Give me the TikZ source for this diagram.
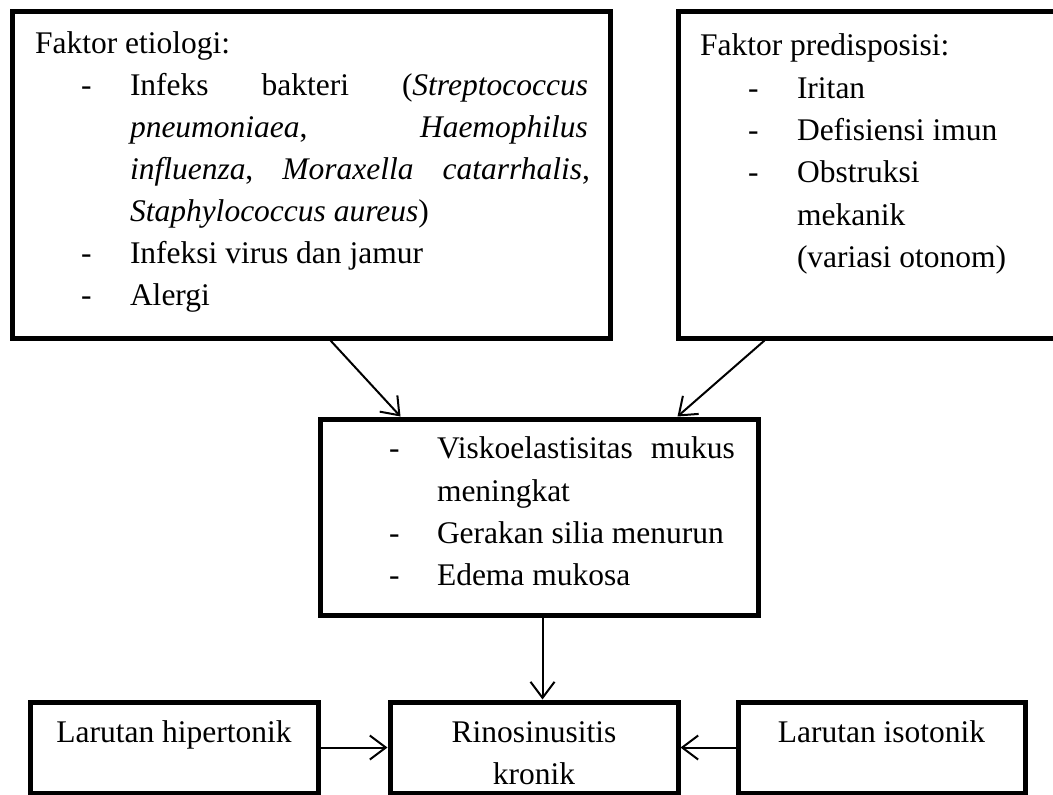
\documentclass[tikz,border=0pt]{standalone}
\usepackage{fontspec}
\setmainfont{Liberation Serif}
\usetikzlibrary{arrows.meta}
\begin{document}
\begin{tikzpicture}[x=1pt,y=-1pt,
  box/.style={draw=black,line width=5pt,inner sep=0pt,outer sep=2.5pt,rectangle},
  txt/.style={anchor=base west,inner sep=0pt,outer sep=0pt,font=\fontsize{31.5}{42}\selectfont},
  ctxt/.style={anchor=base,inner sep=0pt,outer sep=0pt,font=\fontsize{31.5}{42}\selectfont},
  arr/.style={line width=2pt,-{Straight Barb[length=16pt,width=24pt,line width=2pt]}}]
\useasboundingbox (0,0) rectangle (1053,795);
\clip (0,0) rectangle (1053,795);
% boxes
\node[box,minimum width=598pt,minimum height=327pt] (b1) at (311,174.5) {};
\node[box,minimum width=380pt,minimum height=327pt] (b2) at (868,174.5) {};
\node[box,minimum width=438pt,minimum height=196pt] (b3) at (539,517) {};
\node[box,minimum width=288pt,minimum height=91pt] (bl) at (174,747.5) {};
\node[box,minimum width=288pt,minimum height=91pt] (bm) at (534,747.5) {};
\node[box,minimum width=287pt,minimum height=91pt] (br) at (881.5,747.5) {};
% box 1 text
\node[txt] (e0) at (35,53) {Faktor etiologi:};
\node[txt] (e1d) at (81,95) {-};
\node[txt] (e1) at (130,95) {\hbox to 458pt{Infeks\hfill bakteri\hfill (\textit{Streptococcus}}};
\node[txt] (e2) at (130,137) {\hbox to 458pt{\textit{pneumoniaea},\hfill \textit{Haemophilus}}};
\node[txt] (e3) at (130,179) {\hbox to 460pt{\textit{influenza},\hfill \textit{Moraxella}\hfill \textit{catarrhalis},}};
\node[txt] (e4) at (130,221) {\textit{Staphylococcus aureus})};
\node[txt] (e5d) at (81,263) {-};
\node[txt] (e5) at (130,263) {Infeksi virus dan jamur};
\node[txt] (e6d) at (81,305) {-};
\node[txt] (e6) at (130,305) {Alergi};
% box 2 text
\node[txt] (p0) at (700,55) {Faktor predisposisi:};
\node[txt] (p1d) at (748,98) {-};
\node[txt] (p1) at (797,98) {Iritan};
\node[txt] (p2d) at (748,140) {-};
\node[txt] (p2) at (797,140) {Defisiensi imun};
\node[txt] (p3d) at (748,182) {-};
\node[txt] (p3) at (797,182) {Obstruksi};
\node[txt] (p4) at (797,225) {mekanik};
\node[txt] (p5) at (797,267) {(variasi otonom)};
% box 3 text
\node[txt] (m1d) at (389,458) {-};
\node[txt] (m1) at (437,458) {\hbox to 298pt{Viskoelastisitas\hfill mukus}};
\node[txt] (m2) at (437,501) {meningkat};
\node[txt] (m3d) at (389,543) {-};
\node[txt] (m3) at (437,543) {Gerakan silia menurun};
\node[txt] (m4d) at (389,585) {-};
\node[txt] (m4) at (437,585) {Edema mukosa};
% bottom texts
\node[ctxt] (lt) at (174,742) {Larutan hipertonik};
\node[ctxt] (mt1) at (534,742) {Rinosinusitis};
\node[ctxt] (mt2) at (534,784) {kronik};
\node[ctxt] (rt) at (881.5,742) {Larutan isotonik};
% arrows
\draw[arr] ([xshift=321pt]b1.south west) -- ([xshift=83pt]b3.north west);
\draw[arr] ([xshift=89pt]b2.south west) -- ([xshift=360pt]b3.north west);
\draw[arr] ([xshift=225pt]b3.south west) -- ([xshift=155pt]bm.north west);
\draw[arr] (bl.east) -- (bm.west);
\draw[arr] (br.west) -- (bm.east);
\end{tikzpicture}
\end{document}
